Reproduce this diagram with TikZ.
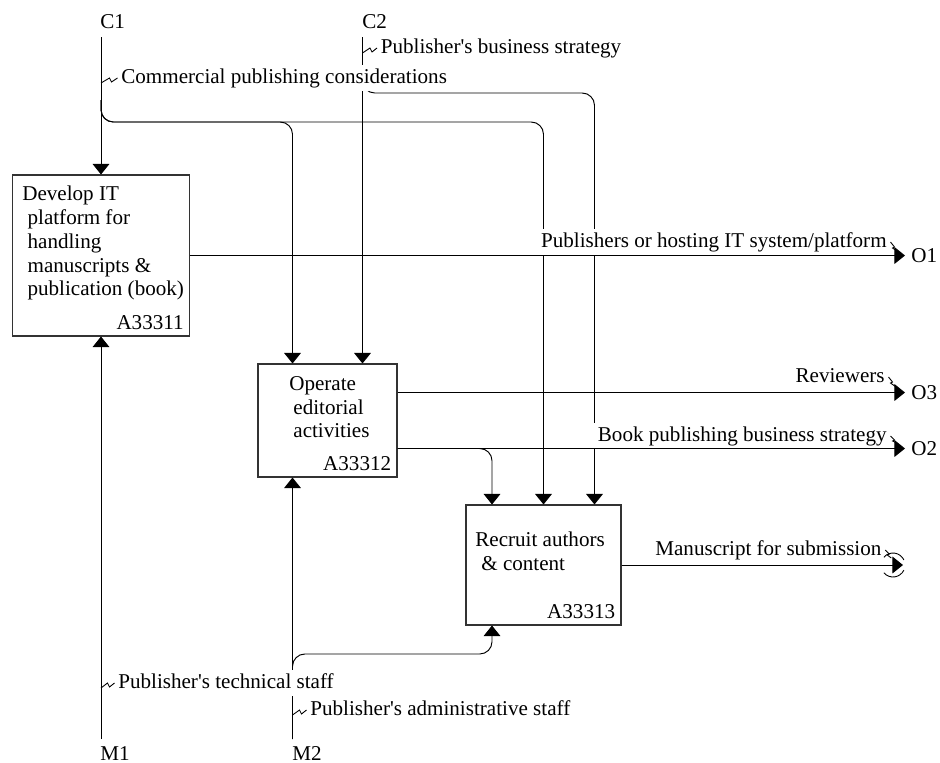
\documentclass[tikz,border=0pt]{standalone}
\usepackage{fontspec}
\setmainfont{Liberation Serif}
\usetikzlibrary{arrows.meta,positioning,calc}

\begin{document}
\begin{tikzpicture}[
    x=0.02cm, y=-0.02cm,
    font=\fontsize{12}{13.5}\selectfont,
    actbox/.style={
        rectangle,
        draw=black!80,
        line width=0.6pt,
        fill=white,
        inner sep=0pt
    },
    acttext/.style={anchor=north west, align=left, inner sep=0pt},
    actnum/.style={anchor=base east, inner sep=0pt, xshift=-1.2mm, yshift=1.5mm},
    port/.style={anchor=base west, inner sep=0pt},
    lbl/.style={fill=white, inner sep=2pt, text height=8.3pt, text depth=2.6pt},
    flow/.style={-{Triangle[width=9.5pt,length=6pt]}, line width=0.55pt},
    branch/.style={flow, rounded corners=7pt},
    zig/.style={line width=0.5pt}
]
\useasboundingbox (0,0) rectangle (940,762);

% ATIVIDADES
\node[actbox, minimum width=3.54cm, minimum height=3.22cm] (develop) at (101,255.5) {};
\node[acttext] (developtxt) at (22,186) {Develop IT\\\hspace*{3pt}platform for\\\hspace*{3pt}handling\\\hspace*{3pt}manuscripts \&\\\hspace*{3pt}publication (book)};
\node[actnum] (developnum) at (develop.south east) {A33311};

\node[actbox, minimum width=2.78cm, minimum height=2.26cm] (operate) at (327.5,420.5) {};
\node[acttext] (operatetxt) at (289,376) {Operate\\\hspace*{2.3pt}editorial\\\hspace*{2.3pt}activities};
\node[actnum] (operatenum) at (operate.south east) {A33312};

\node[actbox, minimum width=3.1cm, minimum height=2.4cm] (recruit) at (543.5,565) {};
\node[acttext] (recruittxt) at (475,532) {Recruit authors\\\hspace*{3.4pt}\& content};
\node[actnum] (recruitnum) at (recruit.south east) {A33313};

% FRONTEIRA
\node[port] (c1) at (100,28) {C1};
\node[port] (c2) at (362,28) {C2};
\node[port] (m1) at (100,760) {M1};
\node[port] (m2) at (292,760) {M2};
\node[port] (o1) at (911,262) {O1};
\node[port] (o3) at (911,399) {O3};
\node[port] (o2) at (911,455) {O2};

\coordinate (c1in) at (101,37);
\coordinate (c2in) at (362.5,37);
\coordinate (m1in) at (101,739);
\coordinate (m2in) at (292.5,739);
\coordinate (o1out) at (905,255.5);
\coordinate (o3out) at (905,392.5);
\coordinate (o2out) at (905,448.5);
\coordinate (msout) at (903,565);

% pontos nas caixas
\coordinate (opc1) at ([xshift=-7mm]operate.north);
\coordinate (opc2) at ([xshift=7mm]operate.north);
\coordinate (opm1) at ([xshift=-7mm]operate.south);
\coordinate (opo1) at ([yshift=5.6mm]operate.east);
\coordinate (opo2) at ([yshift=-5.6mm]operate.east);
\coordinate (rcc1) at ([xshift=-10.3mm]recruit.north);
\coordinate (rcc2) at (recruit.north);
\coordinate (rcc3) at ([xshift=10.2mm]recruit.north);
\coordinate (rcm1) at ([xshift=-10.3mm]recruit.south);

\coordinate (c1split) at (101,100);
\coordinate (c1bus) at (101,122);
\coordinate (c2split) at (362.5,78);
\coordinate (c2bus) at (362.5,93);
\coordinate (m2split) at (292.5,672);
\coordinate (m2bus) at (292.5,654);

% --- CONTROLES ---
\draw[flow] (c1in) -- (develop.north);
\draw[branch] (c1split) |- (opc1 |- c1bus) -- (opc1);
\draw[branch] (c1split) |- (rcc2 |- c1bus) -- (rcc2);
\draw[flow] (c2in) -- (opc2);
\draw[branch] (c2split) |- (rcc3 |- c2bus) -- (rcc3);

% --- MECANISMOS ---
\draw[flow] (m1in) -- (develop.south);
\draw[flow] (m2in) -- (opm1);
\draw[branch] (m2split) |- (rcm1 |- m2bus) -- (rcm1);

% --- ROTULOS ---
\node[lbl, anchor=base west] (pbs) at (377,53) {Publisher\textquotesingle s business strategy};
\node[lbl, anchor=base west] (cpc) at (117.5,83) {Commercial publishing considerations};
\node[lbl, anchor=base east] (phit) at (890.5,247) {Publishers or hosting IT system/platform};
\node[lbl, anchor=base east] (rev) at (888.5,382) {Reviewers};
\node[lbl, anchor=base east] (bpbs) at (890.5,441) {Book publishing business strategy};
\node[lbl, anchor=base west] (mfs) at (651.5,555) {Manuscript for submission};
\node[lbl, anchor=base west] (pts) at (114.5,688) {Publisher\textquotesingle s technical staff};
\node[lbl, anchor=base west] (pas) at (306.5,715) {Publisher\textquotesingle s administrative staff};

% --- SAIDAS ---
\draw[flow] (develop.east) -- (o1out);
\draw[flow] (opo1) -- (opo1 -| o3out);
\draw[flow] (opo2) -- (opo2 -| o2out);
\draw[branch] (opo2) -| (rcc1);
\draw[flow] (recruit.east) -- (msout);

% tunel
\coordinate (tun) at (893,565);
\draw[zig] ([shift={(140:0.24cm)}]tun) arc[start angle=140, end angle=25, radius=0.24cm];
\draw[zig] ([shift={(-140:0.24cm)}]tun) arc[start angle=-140, end angle=-25, radius=0.24cm];

% --- ZIGUEZAGUES ---
\draw[zig] (cpc.west) -- ++(-6,4) -- ++(-2,-4) -- ++(-8.5,5);
\draw[zig] (pbs.west) -- ++(-5,4) -- ++(-2,-4) -- ++(-7.5,5);
\draw[zig] (pts.west) -- ++(-5,4) -- ++(-2,-4) -- ++(-6.5,5);
\draw[zig] (pas.west) -- ++(-5,4) -- ++(-2,-4) -- ++(-7,5);
\draw[zig] (phit.east) -- ++(4,5) -- ++(-2,1) -- ++(6,4);
\draw[zig] (rev.east) -- ++(4,5) -- ++(-2,1) -- ++(7,5);
\draw[zig] (bpbs.east) -- ++(4,4) -- ++(-2,1) -- ++(6,3);
\draw[zig] (mfs.east) -- ++(4,4) -- ++(-2,1) -- ++(4,3);

\end{tikzpicture}
\end{document}
